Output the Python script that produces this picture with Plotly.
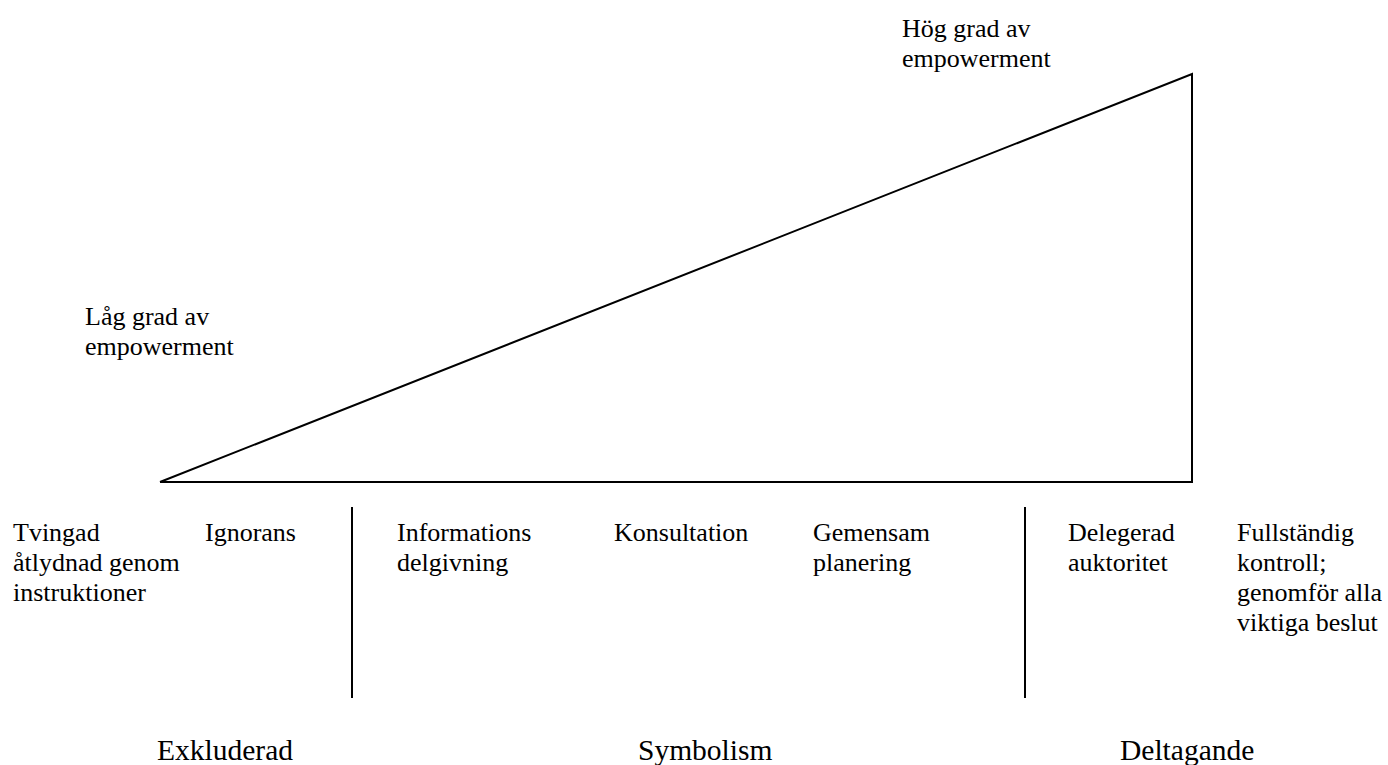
import plotly.graph_objs as go

# triangle (pixel-like coordinates, y grows downwards)
triangle_x = [160, 1192, 1192, 160]
triangle_y = [482, 482, 74, 482]

# vertical dividers between the three groups
divider_x = [352, 1025]
divider_top = 507
divider_bottom = 698

# steps of the scale, left edge x and first baseline
step_labels = [
    ["Tvingad", "åtlydnad genom", "instruktioner"],
    ["Ignorans"],
    ["Informations", "delgivning"],
    ["Konsultation"],
    ["Gemensam", "planering"],
    ["Delegerad", "auktoritet"],
    ["Fullständig", "kontroll;", "genomför alla", "viktiga beslut"],
]
step_x = [13, 205, 397, 614, 813, 1068, 1237]
step_baseline = 541

# ends of the triangle
end_labels = [["Låg grad av", "empowerment"], ["Hög grad av", "empowerment"]]
end_x = [85, 902]
end_baseline = [325, 37]

# groups below
group_labels = ["Exkluderad", "Symbolism", "Deltagande"]
group_x = [157, 638, 1120]
group_baseline = 759

font_name = "Times New Roman, Liberation Serif, serif"
small = 26
big = 29.5
line_gap = 30


def add_text(fig, lines, x, baseline, size):
    for i, line in enumerate(lines):
        fig.add_annotation(x=x, y=baseline + i * line_gap - 0.32 * size, text=line,
                           xanchor="left", yanchor="middle", showarrow=False, xshift=-2,
                           font=dict(family=font_name, size=size, color="black"))


fig = go.Figure()
fig.add_trace(go.Scatter(x=triangle_x, y=triangle_y, mode="lines",
                         line=dict(color="black", width=2), hoverinfo="skip"))
for dx in divider_x:
    fig.add_trace(go.Scatter(x=[dx, dx], y=[divider_top, divider_bottom], mode="lines",
                             line=dict(color="black", width=2), hoverinfo="skip"))

for lines, x in zip(step_labels, step_x):
    add_text(fig, lines, x, step_baseline, small)
for lines, x, b in zip(end_labels, end_x, end_baseline):
    add_text(fig, lines, x, b, small)
for label, x in zip(group_labels, group_x):
    add_text(fig, [label], x, group_baseline, big)

fig.update_layout(width=1388, height=765, margin=dict(l=0, r=0, t=0, b=0),
                  plot_bgcolor="white", paper_bgcolor="white", showlegend=False,
                  font=dict(family=font_name))
fig.update_xaxes(range=[0, 1388], visible=False)
fig.update_yaxes(range=[765, 0], visible=False)

# drop the default page margin so the figure fills the window exactly
fig.write_html("out.html", config={"displayModeBar": False},
               post_script="document.body.style.margin='0';document.body.style.overflow='hidden';")
